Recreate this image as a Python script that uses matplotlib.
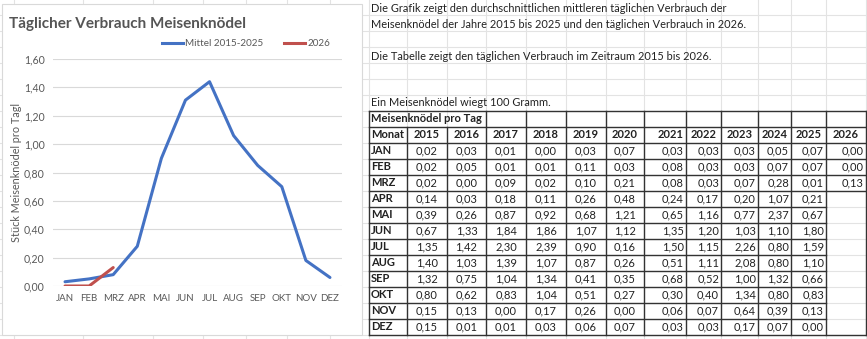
import matplotlib
matplotlib.use("Agg")
import matplotlib.pyplot as plt
from matplotlib.patches import Rectangle

plt.rcParams['font.family'] = ['Lato', 'DejaVu Sans']

# Daten
monate = ['JAN', 'FEB', 'MRZ', 'APR', 'MAI', 'JUN', 'JUL', 'AUG', 'SEP', 'OKT', 'NOV', 'DEZ']
mittel_2015_2025 = [0.03, 0.05, 0.08, 0.28, 0.90, 1.31, 1.44, 1.06, 0.85, 0.70, 0.18, 0.06]
verbrauch_2026 = [0.00, 0.00, 0.13]

jahre = ['2015', '2016', '2017', '2018', '2019', '2020', '2021', '2022', '2023', '2024', '2025', '2026']
v2015 = ['0,02', '0,02', '0,02', '0,14', '0,39', '0,67', '1,35', '1,40', '1,32', '0,80', '0,15', '0,15']
v2016 = ['0,03', '0,05', '0,00', '0,03', '0,26', '1,33', '1,42', '1,03', '0,75', '0,62', '0,13', '0,01']
v2017 = ['0,01', '0,01', '0,09', '0,18', '0,87', '1,84', '2,30', '1,39', '1,04', '0,83', '0,00', '0,01']
v2018 = ['0,00', '0,01', '0,02', '0,11', '0,92', '1,86', '2,39', '1,07', '1,34', '1,04', '0,17', '0,03']
v2019 = ['0,03', '0,11', '0,10', '0,26', '0,68', '1,07', '0,90', '0,87', '0,41', '0,51', '0,26', '0,06']
v2020 = ['0,07', '0,03', '0,21', '0,48', '1,21', '1,12', '0,16', '0,26', '0,35', '0,27', '0,00', '0,07']
v2021 = ['0,03', '0,08', '0,08', '0,24', '0,65', '1,35', '1,50', '0,51', '0,68', '0,30', '0,06', '0,03']
v2022 = ['0,03', '0,03', '0,03', '0,17', '1,16', '1,20', '1,15', '1,11', '0,52', '0,40', '0,07', '0,03']
v2023 = ['0,03', '0,03', '0,07', '0,20', '0,77', '1,03', '2,26', '2,08', '1,00', '1,34', '0,64', '0,17']
v2024 = ['0,05', '0,07', '0,28', '1,07', '2,37', '1,10', '0,80', '0,80', '1,32', '0,80', '0,39', '0,07']
v2025 = ['0,07', '0,07', '0,01', '0,21', '0,67', '1,80', '1,59', '1,10', '0,66', '0,83', '0,13', '0,00']
v2026 = ['0,00', '0,00', '0,13']
spalten = [v2015, v2016, v2017, v2018, v2019, v2020, v2021, v2022, v2023, v2024, v2025, v2026]

W, H = 867, 339
fig = plt.figure(figsize=(W / 100, H / 100), dpi=100)

# Hintergrund in Pixelkoordinaten (Tabellenblatt)
bg = fig.add_axes([0, 0, 1, 1])
bg.set_xlim(0, W)
bg.set_ylim(H, 0)
bg.axis('off')

grid_c = '#e3e3e3'
xs_links = [14, 83, 153, 203, 246, 287, 330]
xs_tab = [369, 407, 447, 486, 526, 566, 606, 644, 686, 721, 758, 791, 826, 866]
for x in xs_links + xs_tab:
    bg.plot([x, x], [0, H], color=grid_c, lw=0.8)
for y in range(15, H, 16):
    bg.plot([0, W], [y, y], color=grid_c, lw=0.8)

# Diagrammbereich
bg.add_patch(Rectangle((2, 4), 360, 331, facecolor='white', edgecolor='#d9d9d9', lw=0.8, zorder=3))
bg.text(9, 24, 'Täglicher Verbrauch Meisenknödel', fontsize=11, fontweight='bold',
        color='#555555', va='center', ha='left', zorder=4)
bg.plot([162, 183], [43, 43], color='#4472c4', lw=2.2, zorder=4)
bg.text(185, 43, 'Mittel 2015-2025', fontsize=7.1, color='#595959', va='center', zorder=4)
bg.plot([284, 305], [43, 43], color='#c0504d', lw=2.2, zorder=4)
bg.text(308, 43, '2026', fontsize=7.1, color='#595959', va='center', zorder=4)
bg.text(17, 172, 'Stück Meisenknödel pro Tagl', fontsize=7.8, color='#595959', rotation=90,
        va='center', ha='center', zorder=4)

# Texte rechts
tc = '#222222'
bg.text(371, 8, 'Die Grafik zeigt den durchschnittlichen mittleren täglichen Verbrauch der',
        fontsize=7.9, color=tc, va='center')
bg.text(371, 24, 'Meisenknödel der Jahre 2015 bis 2025 und den täglichen Verbrauch in 2026.',
        fontsize=7.9, color=tc, va='center')
bg.text(371, 56, 'Die Tabelle zeigt den täglichen Verbrauch im Zeitraum 2015 bis 2026.',
        fontsize=7.9, color=tc, va='center')
bg.text(371, 103, 'Ein Meisenknödel wiegt 100 Gramm.', fontsize=7.9, color=tc, va='center')

# Tabelle
top, rh = 111, 16
n_rows = 14
bottom = top + n_rows * rh
lc = '#333333'
bg.add_patch(Rectangle((369, top), 866 - 369, bottom - top, facecolor='white', edgecolor='none', zorder=1.5))
for i in range(n_rows + 1):
    y = top + i * rh
    x_end = 866 if i <= 5 or i == n_rows else 826
    bg.plot([369, x_end], [y, y], color=lc, lw=1.0, zorder=2)
for j, x in enumerate(xs_tab):
    y0 = top + rh if j in (1, 2) else top
    bg.plot([x, x], [y0, bottom], color=lc, lw=1.0, zorder=2)

fs = 8.0
bg.text(371, top + rh / 2, 'Meisenknödel pro Tag', fontsize=fs, fontweight='bold', color=tc, va='center')
bg.text(371, top + 1.5 * rh, 'Monat', fontsize=fs, fontweight='bold', color=tc, va='center')
for j, jahr in enumerate(jahre):
    x0, x1 = xs_tab[j + 1], xs_tab[j + 2]
    if jahr == '2021':
        bg.text(x1 - 2, top + 1.5 * rh, jahr, fontsize=fs, fontweight='bold', color=tc, va='center', ha='right')
    else:
        bg.text((x0 + x1) / 2, top + 1.5 * rh, jahr, fontsize=fs, fontweight='bold', color=tc, va='center', ha='center')
for i, m in enumerate(monate):
    y = top + (i + 2.5) * rh
    bg.text(371, y, m, fontsize=fs, fontweight='bold', color=tc, va='center')
    for j, werte in enumerate(spalten):
        if i >= len(werte):
            continue
        x0, x1 = xs_tab[j + 1], xs_tab[j + 2]
        if j < 6:
            bg.text((x0 + x1) / 2, y, werte[i], fontsize=fs, color=tc, va='center', ha='center')
        else:
            bg.text(x1 - 2, y, werte[i], fontsize=fs, color=tc, va='center', ha='right')

# Liniendiagramm
ax = fig.add_axes([53 / W, (H - 286) / H, (342 - 53) / W, (286 - 59) / H])
ax.set_facecolor('none')
ax.set_zorder(5)
x = list(range(len(monate)))
ax.plot(x, mittel_2015_2025, color='#4472c4', lw=2.2, solid_capstyle='round')
ax.plot(x[:len(verbrauch_2026)], verbrauch_2026, color='#c0504d', lw=2.2, solid_capstyle='round')
ax.set_xlim(-0.5, 11.5)
ax.set_ylim(0, 1.6)
yt = [0, 0.2, 0.4, 0.6, 0.8, 1.0, 1.2, 1.4, 1.6]
ax.set_yticks(yt)
ax.set_yticklabels([f'{v:.2f}'.replace('.', ',') for v in yt])
ax.set_xticks(x)
ax.set_xticklabels(monate)
ax.grid(axis='y', color='#d9d9d9', lw=0.8)
ax.set_axisbelow(True)
for s in ax.spines.values():
    s.set_visible(False)
ax.tick_params(length=0, labelcolor='#595959', pad=6)
ax.tick_params(axis='y', labelsize=7.6)
ax.tick_params(axis='x', labelsize=7.0)

fig.savefig('out.png', dpi=100)
